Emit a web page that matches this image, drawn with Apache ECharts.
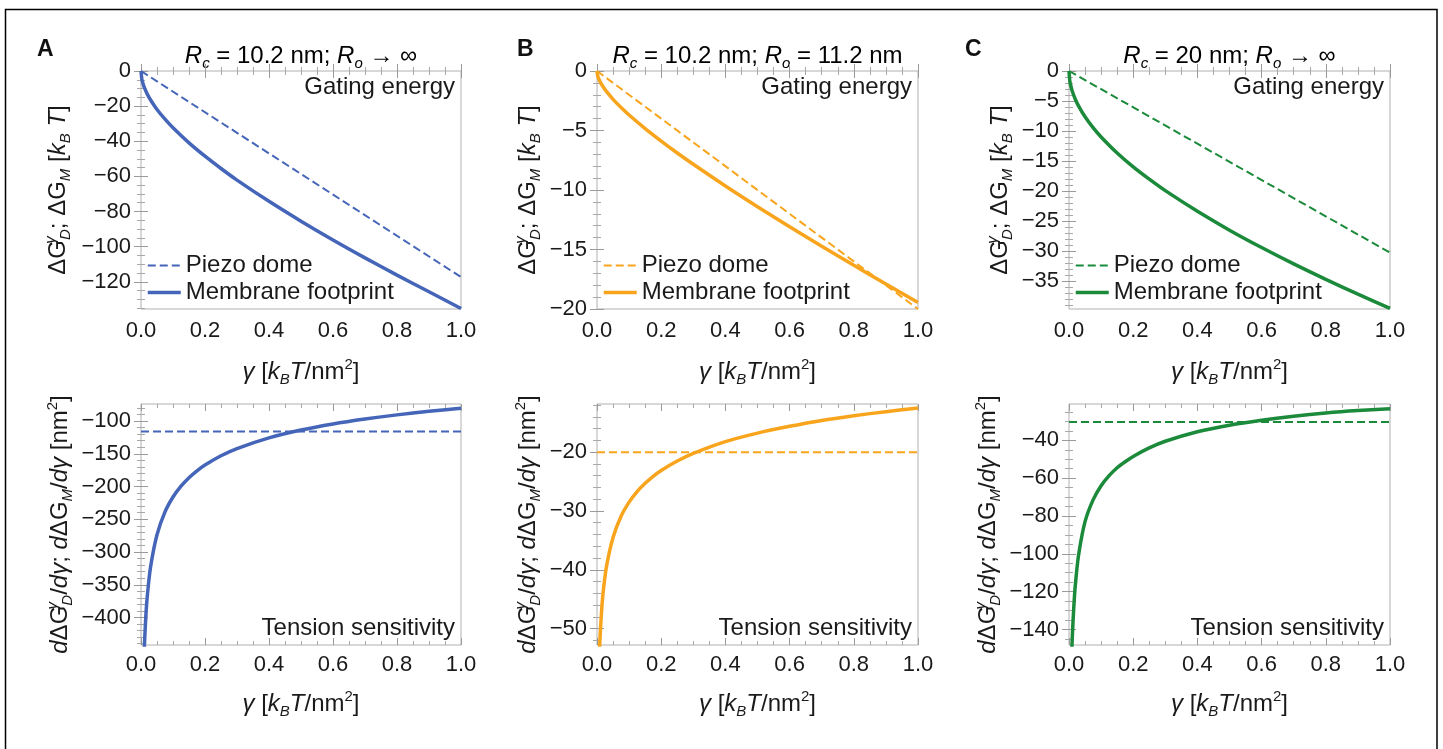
<!DOCTYPE html>
<html>
<head>
<meta charset="utf-8">
<script src="https://cdn.jsdelivr.net/npm/echarts@6/dist/echarts.min.js"></script>
<style>
html,body{margin:0;padding:0;background:#fff;}
#chart{width:1443px;height:749px;}
</style>
</head>
<body>
<div id="chart"></div>
<script>
// ---------------- data ----------------
const gammaTop = [0, 0.0025, 0.005, 0.01, 0.02, 0.03, 0.05, 0.075, 0.1, 0.15, 0.2, 0.25, 0.3, 0.4, 0.5, 0.6, 0.7, 0.8, 0.9, 1.0];
const gammaLine = [0, 1.0];
const gammaBottom = [0.006, 0.008, 0.01, 0.015, 0.02, 0.03, 0.05, 0.075, 0.1, 0.125, 0.15, 0.175, 0.2, 0.25, 0.3, 0.4, 0.5, 0.6, 0.7, 0.8, 0.9, 1.0];

// Panel A  (Rc = 10.2 nm, Ro -> inf)
const energyFootprintA = [0, -4.5, -6.4, -9.2, -13.3, -16.5, -21.9, -27.4, -32.3, -40.9, -48.5, -55.5, -62.1, -74.2, -85.5, -96.2, -106.4, -116.2, -125.7, -135.2];
const energyDomeA = [0, -117.3];
const sensFootprintA = [-521.7, -480.3, -450, -399.1, -365.7, -322.5, -273.6, -238.7, -216, -199.4, -186.5, -176, -167.2, -153.1, -142.1, -125.8, -113.8, -104.5, -97, -90.6, -85.2, -80.5];
const sensDomeA = [-116, -116];

// Panel B  (Rc = 10.2 nm, Ro = 11.2 nm)
const energyFootprintB = [0, -0.43, -0.63, -0.92, -1.37, -1.74, -2.38, -3.07, -3.7, -4.84, -5.89, -6.89, -7.84, -9.66, -11.4, -13.08, -14.72, -16.32, -17.9, -19.45];
const energyDomeB = [0, -20];
const sensFootprintB = [-57.1, -53.6, -51.0, -46.5, -43.4, -39.3, -34.5, -30.9, -28.5, -26.7, -25.3, -24.1, -23.1, -21.5, -20.2, -18.2, -16.75, -15.6, -14.6, -13.8, -13.1, -12.5];
const sensDomeB = [-20, -20];

// Panel C  (Rc = 20 nm, Ro -> inf)
const energyFootprintC = [0, -1.65, -2.34, -3.33, -4.75, -5.86, -7.64, -9.45, -11.0, -13.68, -16.0, -18.05, -19.96, -23.4, -26.55, -29.45, -32.18, -34.76, -37.23, -39.6];
const energyDomeC = [0, -30.3];
const sensFootprintC = [-175, -158, -145, -128, -116, -100.5, -83, -71.5, -64, -58.7, -54.5, -51.3, -48.5, -44, -40.5, -35.5, -32, -29.4, -27.3, -25.6, -24.3, -23.3];
const sensDomeC = [-30.3, -30.3];

// tick labels
const xTicks = [0, 0.2, 0.4, 0.6, 0.8, 1.0];
const yTicksEnergyA = [0, -20, -40, -60, -80, -100, -120];
const yTicksEnergyB = [0, -5, -10, -15, -20];
const yTicksEnergyC = [0, -5, -10, -15, -20, -25, -30, -35];
const yTicksSensA = [-100, -150, -200, -250, -300, -350, -400];
const yTicksSensB = [-20, -30, -40, -50];
const yTicksSensC = [-40, -60, -80, -100, -120, -140];

const panelLetters = ['A', 'B', 'C'];
const legendNames = ['Piezo dome', 'Membrane footprint'];
const colors = ['#4565b8', '#f8a51d', '#1b8a3a'];

// ---------------- styling / layout ----------------
const FONT = "'Liberation Sans', Arial, Helvetica, sans-serif";
const TXT = '#1a1a1a';
const FS = 22;      // tick labels
const FT = 24;      // other text
const rich = {
  r:   {fontSize: FT, fontFamily: FONT, color: TXT, lineHeight: 30},
  i:   {fontSize: FT, fontFamily: FONT, color: TXT, lineHeight: 30, fontStyle: 'italic'},
  sb:  {fontSize: 15, fontFamily: FONT, color: TXT, lineHeight: 15, fontStyle: 'italic', verticalAlign: 'bottom'},
  sz:  {fontSize: 15, fontFamily: FONT, color: TXT, lineHeight: 15, fontStyle: 'italic', verticalAlign: 'top', width: 0.01},
  spr: {fontSize: 15, fontFamily: FONT, color: TXT, lineHeight: 15, verticalAlign: 'top'}
};
const yNameEnergy = '{r|ΔG}{sz|γ}{sb|D}{r|; ΔG}{sb|M}{r| [}{i|k}{sb|B}{i| T}{r|]}';
const yNameSens = '{i|d}{r|ΔG}{sz|γ}{sb|D}{r|/}{i|dγ}{r|; }{i|d}{r|ΔG}{sb|M}{r|/}{i|dγ}{r| [nm}{spr|2}{r|]}';
const xName = '{i|γ}{r| [}{i|k}{sb|B}{i|T}{r|/nm}{spr|2}{r|]}';
const titles = [
  '{i|R}{sb|c}{r| = 10.2 nm; }{i|R}{sb|o}{r| → ∞}',
  '{i|R}{sb|c}{r| = 10.2 nm; }{i|R}{sb|o}{r| = 11.2 nm}',
  '{i|R}{sb|c}{r| = 20 nm; }{i|R}{sb|o}{r| → ∞}'
];

const colX = [{left: 141, width: 320}, {left: 597, width: 321}, {left: 1069, width: 321}];
const rowY = [{top: 71, height: 238}, {top: 404, height: 241}];

const panels = [
  {top: {yMin: -135.5, yMax: 0, split: 7, minor: 4, ticks: yTicksEnergyA, foot: energyFootprintA, dome: energyDomeA},
   bot: {yMin: -442, yMax: -74, split: 7, minor: 5, ticks: yTicksSensA, foot: sensFootprintA, dome: sensDomeA},
   yGap: [68, 66]},
  {top: {yMin: -20, yMax: 0, split: 4, minor: 5, ticks: yTicksEnergyB, foot: energyFootprintB, dome: energyDomeB},
   bot: {yMin: -52.8, yMax: -11.8, split: 4, minor: 5, ticks: yTicksSensB, foot: sensFootprintB, dome: sensDomeB},
   yGap: [54, 54]},
  {top: {yMin: -39.7, yMax: 0, split: 8, minor: 5, ticks: yTicksEnergyC, foot: energyFootprintC, dome: energyDomeC},
   bot: {yMin: -148.2, yMax: -20.8, split: 6, minor: 4, ticks: yTicksSensC, foot: sensFootprintC, dome: sensDomeC},
   yGap: [54, 66]}
];

const fmtY = v => (v < 0 ? '\u2212' + Math.abs(v) : String(v));
const fmtX = v => v.toFixed(1);

const grid = [], xAxis = [], yAxis = [], series = [], legend = [], graphic = [];

function tickStyle(custom) {
  const t = {show: true, inside: true, length: 7, lineStyle: {color: '#9a9a9a', width: 1}};
  if (custom) t.customValues = custom;
  return t;
}
function minorStyle(n) {
  return {show: true, splitNumber: n, length: 4, lineStyle: {color: '#a8a8a8', width: 1}};
}

panels.forEach((p, ci) => {
  ['top', 'bot'].forEach((rowKey, ri) => {
    const cfg = p[rowKey];
    const gi = grid.length;
    grid.push({left: colX[ci].left, width: colX[ci].width, top: rowY[ri].top, height: rowY[ri].height,
      show: true, borderColor: '#b0b0b0', borderWidth: 1, containLabel: false});
    const xi = xAxis.length, yi = yAxis.length;
    xAxis.push({type: 'value', gridIndex: gi, min: 0, max: 1, interval: 0.2, position: 'bottom',
      name: xName, nameLocation: 'middle', nameGap: ri === 0 ? 48 : 44,
      nameTextStyle: {rich: rich},
      axisLine: {show: false}, splitLine: {show: false},
      axisTick: tickStyle(xTicks), minorTick: minorStyle(4),
      axisLabel: {customValues: xTicks, formatter: fmtX, fontSize: FS, fontFamily: FONT, color: TXT, margin: ri === 0 ? 11 : 9}});
    xAxis.push({type: 'value', gridIndex: gi, min: 0, max: 1, interval: 0.2, position: 'top',
      axisLine: {show: false}, splitLine: {show: false}, axisLabel: {show: false},
      axisTick: tickStyle(xTicks), minorTick: minorStyle(4)});
    yAxis.push({type: 'value', gridIndex: gi, min: cfg.yMin, max: cfg.yMax, splitNumber: cfg.split, position: 'left',
      name: ri === 0 ? yNameEnergy : yNameSens, nameLocation: 'middle', nameGap: p.yGap[ri], nameRotate: 90,
      nameTextStyle: {rich: rich},
      axisLine: {show: false}, splitLine: {show: false},
      axisTick: tickStyle(cfg.ticks), minorTick: minorStyle(cfg.minor),
      axisLabel: {customValues: cfg.ticks, formatter: fmtY, fontSize: FS, fontFamily: FONT, color: TXT, margin: 10}});
    yAxis.push({type: 'value', gridIndex: gi, min: cfg.yMin, max: cfg.yMax, splitNumber: cfg.split, position: 'right',
      axisLine: {show: false}, splitLine: {show: false}, axisLabel: {show: false},
      axisTick: tickStyle(cfg.ticks), minorTick: minorStyle(cfg.minor)});

    const letter = panelLetters[ci];
    const gx = ri === 0 ? gammaTop : gammaBottom;
    const domeData = gammaLine.map((g, k) => [g, cfg.dome[k]]);
    const footData = gx.map((g, k) => [g, cfg.foot[k]]);
    const suffix = ri === 0 ? '' : ' (s)';
    const nameDome = letter + '|' + legendNames[0] + suffix;
    const nameFoot = letter + '|' + legendNames[1] + suffix;
    series.push({type: 'line', name: nameDome, xAxisIndex: xi, yAxisIndex: yi, data: domeData,
      symbol: 'none', showSymbol: false, silent: true, animation: false,
      lineStyle: {color: colors[ci], width: 2, type: [8, 4]}, itemStyle: {color: colors[ci]}});
    series.push({type: 'line', name: nameFoot, xAxisIndex: xi, yAxisIndex: yi, data: footData,
      symbol: 'none', showSymbol: false, silent: true, animation: false, smooth: 0.3,
      lineStyle: {color: colors[ci], width: 3.5}, itemStyle: {color: colors[ci]}});

    if (ri === 0) {
      legend.push({orient: 'vertical', left: colX[ci].left + 5, top: 253, padding: 0,
        data: [nameDome, nameFoot], formatter: n => n.split('|')[1],
        itemWidth: 33, itemHeight: 14, itemGap: 2, selectedMode: false,
        itemStyle: {opacity: 0},
        lineStyle: {width: 'inherit'},
        textStyle: {fontSize: FT, fontFamily: FONT, color: TXT, lineHeight: 25, padding: [0, 0, 0, 0]}});
      graphic.push({type: 'text', x: colX[ci].left + colX[ci].width - 6, y: 87,
        style: {text: 'Gating energy', fontSize: FT, fontFamily: FONT, fill: TXT, align: 'right', verticalAlign: 'middle'}});
      graphic.push({type: 'text', x: colX[ci].left + colX[ci].width / 2, y: 56,
        style: {text: titles[ci], rich: rich, align: 'center', verticalAlign: 'middle'}});
    } else {
      graphic.push({type: 'text', x: colX[ci].left + colX[ci].width - 6, y: 628,
        style: {text: 'Tension sensitivity', fontSize: FT, fontFamily: FONT, fill: TXT, align: 'right', verticalAlign: 'middle'}});
    }
  });
});

const letterX = [37, 517, 965];
letterX.forEach((x, i) => graphic.push({type: 'text', x: x, y: 50,
  style: {text: panelLetters[i], fontSize: 23, fontWeight: 'bold', fontFamily: FONT, fill: '#111', align: 'left', verticalAlign: 'middle'}}));
graphic.push({type: 'rect', silent: true, shape: {x: 5.5, y: 9.5, width: 1431.5, height: 800},
  style: {fill: 'none', stroke: '#000', lineWidth: 1.5}});

const chart = echarts.init(document.getElementById('chart'), null, {renderer: 'canvas'});
chart.setOption({
  animation: false,
  backgroundColor: '#fff',
  grid: grid, xAxis: xAxis, yAxis: yAxis, series: series, legend: legend, graphic: graphic
});
</script>
</body>
</html>
